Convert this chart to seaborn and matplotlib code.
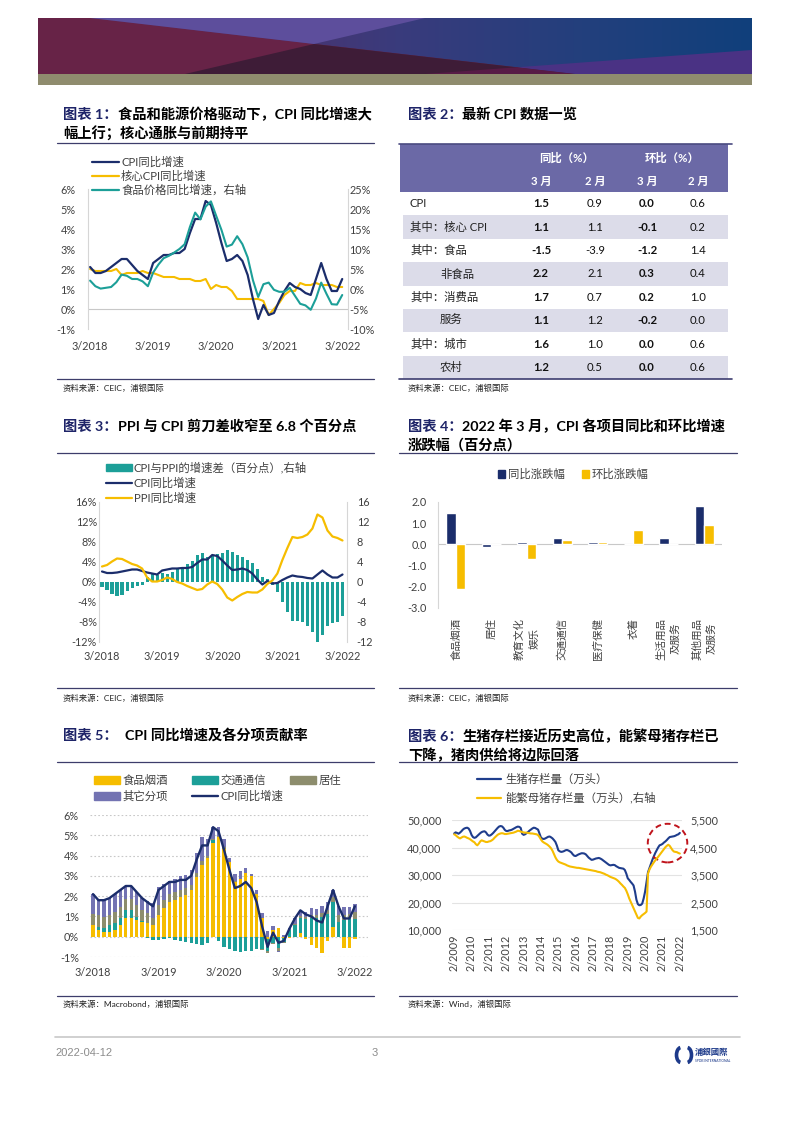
import numpy as np
import pandas as pd
import matplotlib
matplotlib.use('Agg')
import matplotlib.pyplot as plt
import seaborn as sns
from matplotlib.patches import Polygon, Rectangle, Ellipse, Patch, Arc
from matplotlib.lines import Line2D
from matplotlib.colors import LinearSegmentedColormap

## ---------------- data ----------------
# chart 1 / 3 / 5 : monthly 3/2018 .. 3/2022
month_ticks = ['3/2018', '3/2019', '3/2020', '3/2021', '3/2022']
cpi_yoy = [2.1, 1.8, 1.8, 1.9, 2.1, 2.3, 2.5, 2.5, 2.2, 1.9,
           1.7, 1.5, 2.3, 2.5, 2.7, 2.7, 2.8, 2.8, 3.0, 3.8, 4.5, 4.5,
           5.4, 5.2, 4.3, 3.3, 2.4, 2.5, 2.7, 2.4, 1.7, 0.5, -0.5, 0.2,
           -0.3, -0.2, 0.4, 0.9, 1.3, 1.1, 1.0, 0.8, 0.7, 1.5, 2.3, 1.5,
           0.9, 0.9, 1.5]
core_cpi = [2.0, 1.9, 1.9, 1.9, 1.9, 2.0, 1.7, 1.8, 1.8, 1.8,
            1.9, 1.8, 1.8, 1.7, 1.6, 1.6, 1.6, 1.5, 1.5, 1.5, 1.4, 1.4,
            1.5, 1.0, 1.2, 1.1, 1.1, 0.9, 0.5, 0.5, 0.5, 0.5, 0.5, 0.4,
            -0.3, 0.0, 0.3, 0.7, 0.9, 0.9, 1.3, 1.2, 1.2, 1.3, 1.2, 1.2,
            1.2, 1.1, 1.1]
food_yoy = [2.1, 0.7, 0.1, 0.3, 0.5, 1.7, 3.6, 3.3, 2.5, 2.5,
            1.9, 0.7, 4.1, 6.1, 7.7, 8.3, 9.1, 10.0, 11.2, 15.5, 19.1, 17.4,
            20.6, 21.9, 18.3, 14.8, 10.6, 11.1, 13.2, 11.2, 7.9, 2.2, -2.0, 1.2,
            1.6, -0.2, -0.7, -0.7, 0.3, -1.7, -3.7, -4.1, -5.2, -2.4, 1.6, -1.2,
            -3.8, -3.9, -1.5]
ppi_yoy = [3.1, 3.4, 4.1, 4.7, 4.6, 4.1, 3.6, 3.3, 2.7, 0.9,
           0.1, 0.1, 0.4, 0.9, 0.6, 0.0, -0.3, -0.8, -1.2, -1.6, -1.4, -0.5,
           0.1, -0.4, -1.5, -3.1, -3.7, -3.0, -2.4, -2.0, -2.1, -2.1, -1.5, -0.4,
           0.3, 1.7, 4.4, 6.8, 9.0, 8.8, 9.0, 9.5, 10.7, 13.5, 12.9, 10.3,
           9.1, 8.8, 8.3]
cpi_ppi_gap = [-1.0, -1.6, -2.3, -2.8, -2.5, -1.8, -1.1, -0.8, -0.5, 1.0,
               1.6, 1.4, 1.9, 1.6, 2.1, 2.7, 3.1, 3.6, 4.2, 5.4, 5.9, 5.0,
               5.3, 5.6, 5.8, 6.4, 6.1, 5.5, 5.1, 4.4, 3.8, 2.6, 1.0, 0.6,
               -0.6, -1.9, -4.0, -5.9, -7.7, -7.7, -8.0, -8.7, -10.0, -12.0, -10.6, -8.8,
               -8.2, -7.9, -6.8]
# chart 5 contributions (pp)
contrib_food = [0.57, 0.33, 0.25, 0.25, 0.33, 0.57, 0.9, 0.9, 0.82, 0.74,
                0.66, 0.57, 1.07, 1.4, 1.72, 1.8, 1.97, 2.05, 2.3, 2.96, 3.55, 3.9,
                4.6, 4.9, 4.3, 3.7, 2.7, 2.85, 3.15, 3.0, 2.1, 0.9, -0.1, 0.35,
                0.45, -0.05, -0.05, 0.0, 0.2, -0.1, -0.4, -0.55, -0.8, -0.2, 0.5, 0.0,
                -0.55, -0.55, -0.1]
contrib_transport = [0.0, 0.16, 0.2, 0.33, 0.33, 0.33, 0.41, 0.41, 0.16, 0.03,
                     -0.05, -0.16, -0.16, -0.1, -0.05, -0.15, -0.2, -0.25, -0.3, -0.35, -0.4, -0.3,
                     0.15, -0.2, -0.5, -0.6, -0.7, -0.75, -0.7, -0.7, -0.6, -0.6, -0.6, -0.3,
                     -0.55, -0.2, 0.35, 0.6, 0.7, 0.85, 0.9, 0.9, 0.95, 1.1, 1.2, 0.75,
                     0.8, 0.85, 0.85]
contrib_housing = [0.57, 0.57, 0.54, 0.5, 0.57, 0.57, 0.57, 0.57, 0.57, 0.54,
                   0.5, 0.33, 0.5, 0.41, 0.41, 0.38, 0.33, 0.33, 0.25, 0.16, 0.16, 0.1,
                   0.05, 0.05, 0.1, 0.0, 0.05, 0.0, 0.0, 0.0, 0.0, -0.05, -0.1, -0.05,
                   -0.15, -0.05, 0.0, 0.05, 0.1, 0.1, 0.15, 0.15, 0.2, 0.2, 0.25, 0.3,
                   0.25, 0.25, 0.35]
contrib_other = [0.96, 0.74, 0.81, 0.82, 0.87, 0.83, 0.62, 0.62, 0.65, 0.59,
                 0.59, 0.76, 0.89, 0.79, 0.62, 0.67, 0.70, 0.67, 0.75, 1.03, 1.19, 0.80,
                 0.60, 0.45, 0.40, 0.20, 0.35, 0.40, 0.25, 0.10, 0.20, 0.25, 0.30, 0.20,
                 -0.05, 0.10, 0.10, 0.25, 0.30, 0.25, 0.35, 0.30, 0.35, 0.40, 0.35, 0.45,
                 0.40, 0.35, 0.40]

# chart 2 table
table_rows = ['CPI', '其中：核心 CPI', '其中：食品', '非食品', '其中：消费品', '服务', '其中：城市', '农村']
row_indent = [0, 0, 0, 1, 0, 1, 0, 1]
yoy_mar = [1.5, 1.1, -1.5, 2.2, 1.7, 1.1, 1.6, 1.2]
yoy_feb = [0.9, 1.1, -3.9, 2.1, 0.7, 1.2, 1.0, 0.5]
mom_mar = [0.0, -0.1, -1.2, 0.3, 0.2, -0.2, 0.0, 0.0]
mom_feb = [0.6, 0.2, 1.4, 0.4, 1.0, 0.0, 0.6, 0.6]

# chart 4
items = ['食品烟酒', '居住', '教育文化\n娱乐', '交通通信', '医疗保健', '衣着', '生活用品\n及服务', '其他用品\n及服务']
item_yoy = [1.5, -0.1, 0.1, 0.3, 0.1, 0.0, 0.3, 1.8]
item_mom = [-2.1, 0.0, -0.7, 0.2, 0.1, 0.7, 0.0, 0.9]

# chart 6 : monthly 2/2009 .. 2/2022
hog_ticks = ['2/2009', '2/2010', '2/2011', '2/2012', '2/2013', '2/2014', '2/2015',
             '2/2016', '2/2017', '2/2018', '2/2019', '2/2020', '2/2021', '2/2022']
hog_stock = [45100, 45500, 45300, 45000, 45400, 45900, 46500, 46900, 47100, 47200, 46900,
             46000, 44600, 43800, 43500, 43700, 44200, 44700, 45200, 45600, 45800, 45900, 45500,
             44700, 44300, 44400, 44800, 45300, 45900, 46500, 47100, 47600, 47800, 47700, 47200,
             46400, 46000, 46000, 46200, 46300, 46500, 46800, 47100, 47400, 47600, 47500, 47100,
             45000, 44600, 44800, 45200, 45600, 46100, 46500, 46900, 47200, 47100, 46800, 46500,
             45000, 43600, 43200, 43100, 43300, 43600, 43900, 44000, 43700, 43300, 42700, 42000,
             40700, 39000, 38600, 38400, 38500, 38700, 39000, 39100, 38900, 38600, 38200, 37500,
             37000, 36900, 37200, 37500, 37700, 37900, 37900, 37800, 37500, 36900, 36300, 35900,
             35500, 35600, 35800, 36000, 36100, 36200, 36000, 35700, 35300, 34900, 34500, 34100,
             33700, 33500, 33600, 33700, 33600, 33200, 32900, 32600, 32500, 32400, 32300, 31800,
             30500, 28800, 28200, 27500, 26900, 26200, 24000, 21000, 19400, 19000, 19100, 19600,
             21500, 24000, 27500, 31000, 32500, 34000, 35500, 36800, 38000, 39000, 40000, 40800,
             41000, 41300, 41800, 42200, 42700, 43300, 43800, 43900, 44000, 44100, 44300, 44600,
             44800, 45300]
sow_stock = [4980, 4950, 4900, 4860, 4830, 4860, 4890, 4900, 4880, 4850, 4830,
             4800, 4760, 4720, 4690, 4620, 4580, 4640, 4720, 4760, 4740, 4720, 4700,
             4700, 4720, 4730, 4760, 4800, 4860, 4910, 4960, 4990, 5010, 5020, 5010,
             4990, 4990, 5000, 5010, 5020, 5030, 5040, 5060, 5080, 5110, 5100, 5080,
             5060, 5050, 5040, 5040, 5030, 5020, 5010, 5010, 5000, 4990, 4980, 4950,
             4880, 4790, 4720, 4680, 4650, 4620, 4580, 4530, 4470, 4380, 4260, 4140,
             4050, 3990, 3960, 3940, 3920, 3900, 3880, 3850, 3830, 3810, 3800, 3790,
             3780, 3770, 3760, 3760, 3750, 3740, 3730, 3720, 3710, 3700, 3690, 3680,
             3670, 3660, 3650, 3640, 3620, 3610, 3600, 3580, 3560, 3540, 3510, 3490,
             3460, 3430, 3410, 3390, 3370, 3340, 3300, 3250, 3190, 3140, 3080, 3030,
             2930, 2800, 2650, 2530, 2400, 2290, 2170, 2050, 1940, 1920, 1990, 2040,
             2080, 2120, 2170, 3550, 3700, 3800, 3880, 3960, 4030, 4100, 4160, 4230,
             4300, 4370, 4440, 4510, 4560, 4600, 4560, 4480, 4400, 4350, 4340, 4330,
             4300, 4280]

## ---------------- style ----------------
sns.set_theme(style='white')
plt.rcParams['font.family'] = ['Lato', 'Noto Sans CJK SC', 'DejaVu Sans']
plt.rcParams['axes.unicode_minus'] = False

NAVY = '#1b2d6b'
GOLD = '#f6bd00'
TEAL = '#1c9f98'
KHAKI = '#8d8d6d'
PURP = '#7373b2'
NAVY6 = '#1f3d8c'
TNAVY = '#1e2468'
TXT = '#404040'
SPINE = '#d6d6d6'
SEP = '#3d3d6b'
TICK = 7.8
LEG = 8.2

W, H = 793, 1122
fig = plt.figure(figsize=(W / 100, H / 100), dpi=100)
page = fig.add_axes([0, 0, 1, 1])
page.set_xlim(0, W)
page.set_ylim(H, 0)
page.axis('off')
renderer = fig.canvas.get_renderer()


def add_ax(x0, y0, x1, y1):
    return fig.add_axes([x0 / W, 1 - y1 / H, (x1 - x0) / W, (y1 - y0) / H])


def fxy(x, y):
    return (x / W, 1 - y / H)


def clean(ax, keep=()):
    for s in ['left', 'right', 'top', 'bottom']:
        ax.spines[s].set_visible(s in keep)
        ax.spines[s].set_color(SPINE)
        ax.spines[s].set_linewidth(0.8)
    ax.tick_params(length=0, labelsize=TICK, colors=TXT)
    ax.set_xlabel('')
    ax.set_ylabel('')


## ---------------- banner / footer ----------------
grad = np.linspace(0, 1, 256).reshape(1, -1)
bcmap = LinearSegmentedColormap.from_list('ban', ['#6a2447', '#52306a', '#3a3b7c', '#243f7d', '#10407b'])
page.imshow(grad, extent=(38, 752, 74, 18), aspect='auto', cmap=bcmap, zorder=0)
page.add_patch(Polygon([(38, 18), (90, 18), (575, 74), (38, 74)], color='#672347', lw=0, zorder=1))
page.add_patch(Polygon([(90, 18), (425, 18), (314, 44)], color='#5d4e9c', lw=0, zorder=1))
page.add_patch(Polygon([(185, 74), (314, 44), (575, 74)], color='#3e1c37', lw=0, zorder=1))
page.add_patch(Polygon([(516.7, 67.3), (752, 50), (752, 74), (575, 74)], color='#4a3284', lw=0, zorder=1))
page.add_patch(Polygon([(425, 74), (516.7, 67.3), (575, 74)], color='#571b46', lw=0, zorder=1))
page.add_patch(Rectangle((38, 74), 714, 11, color='#8f8c6e', lw=0, zorder=1))
page.set_xlim(0, W)
page.set_ylim(H, 0)

page.plot([55, 740], [1037, 1037], color='#c8c8c8', lw=1.2)
page.text(55, 1053, '2022-04-12', fontsize=8, color='#8c8c8c', va='center',
          family=['Liberation Sans Narrow', 'Liberation Sans'])
page.text(375, 1053, '3', fontsize=8, color='#8c8c8c', va='center', ha='center',
          family=['Liberation Sans Narrow', 'Liberation Sans'])
page.add_patch(Arc((681, 1055), 9, 15, theta1=95, theta2=265, lw=2.6, color='#1d3a8a'))
page.add_patch(Arc((687, 1055), 9, 15, theta1=-85, theta2=85, lw=2.6, color='#1d3a8a'))
page.text(695, 1052, '浦銀國際', fontsize=6, fontweight='bold', color='#1d3a8a', va='center',
          family=['Noto Sans CJK TC'])
page.text(695, 1060.5, 'SPDB INTERNATIONAL', fontsize=2.4, color='#1d3a8a', va='center')


## ---------------- titles / separators ----------------
TS = 10.3


def title(x, y, num, line1, line2=None):
    t = page.text(x, y, f'图表 {num}：', color=TNAVY, fontsize=TS, fontweight='bold', va='center')
    w = t.get_window_extent(renderer).width
    page.text(x + w, y, line1, color='black', fontsize=TS, fontweight='bold', va='center')
    if line2:
        page.text(x, y + 19, line2, color='black', fontsize=TS, fontweight='bold', va='center')


def source(x, y, txt):
    page.text(x, y, txt, fontsize=6.0, color='#222222', va='center')


def sep(x0, x1, y):
    page.plot([x0, x1], [y, y], color=SEP, lw=0.9)


title(63, 114, 1, '食品和能源价格驱动下，CPI 同比增速大', '幅上行；核心通胀与前期持平')
title(408, 114, 2, '最新 CPI 数据一览')
title(63, 426, 3, 'PPI 与 CPI 剪刀差收窄至 6.8 个百分点')
title(408, 426, 4, '2022 年 3 月，CPI 各项目同比和环比增速', '涨跌幅（百分点）')
title(63, 735, 5, '  CPI 同比增速及各分项贡献率')
title(408, 736, 6, '生猪存栏接近历史高位，能繁母猪存栏已', '下降，猪肉供给将边际回落')

for y in (143, 453, 762):
    sep(57, 374, y)
for y in (379, 688, 996):
    sep(57, 374, y)
for y in (453, 762):
    sep(399, 737, y)
for y in (688, 996):
    sep(399, 737, y)

source(63, 388, '资料来源：CEIC，浦银国际')
source(408, 388, '资料来源：CEIC，浦银国际')
source(63, 698, '资料来源：CEIC，浦银国际')
source(408, 698, '资料来源：CEIC，浦银国际')
source(63, 1004, '资料来源：Macrobond，浦银国际')
source(408, 1004, '资料来源：Wind，浦银国际')

m49 = np.arange(len(cpi_yoy))

## ---------------- chart 1 ----------------
ax1 = add_ax(88, 189, 348, 329)
ax1r = ax1.twinx()
sns.lineplot(x=m49, y=core_cpi, ax=ax1, color=GOLD, lw=1.5)
sns.lineplot(x=m49, y=cpi_yoy, ax=ax1, color=NAVY, lw=1.6)
sns.lineplot(x=m49, y=food_yoy, ax=ax1r, color=TEAL, lw=1.5)
ax1.axhline(0, color='#c8c8c8', lw=0.8, zorder=0)
ax1.set_xlim(-0.4, 49.1)
ax1.set_ylim(-1, 6)
ax1r.set_ylim(-10, 25)
ax1.set_yticks(range(-1, 7))
ax1.set_yticklabels([f'{v}%' for v in range(-1, 7)])
ax1r.set_yticks(range(-10, 26, 5))
ax1r.set_yticklabels([f'{v}%' for v in range(-10, 26, 5)])
ax1.set_xticks([0, 12, 24, 36, 48])
ax1.set_xticklabels(month_ticks)
clean(ax1, keep=('left',))
clean(ax1r, keep=('right',))
ax1.tick_params(axis='y', pad=9)
ax1.tick_params(axis='x', pad=9)
ax1r.tick_params(axis='y', pad=1)
h1 = [Line2D([], [], color=NAVY, lw=1.6), Line2D([], [], color=GOLD, lw=1.6), Line2D([], [], color=TEAL, lw=1.6)]
ax1r.legend(h1, ['CPI同比增速', '核心CPI同比增速', '食品价格同比增速，右轴'], loc='upper left',
            bbox_to_anchor=fxy(92, 156.5), bbox_transform=fig.transFigure, frameon=False,
            fontsize=LEG, handlelength=2.35, handletextpad=0.2, labelspacing=0.24,
            borderpad=0, borderaxespad=0, labelcolor=TXT)

## ---------------- chart 2 (table) ----------------
page.add_patch(Rectangle((400, 144), 328, 48, color='#6b69a6', lw=0))
page.plot([399, 732], [144, 144], color='#4a4a80', lw=1.2)
hdr = dict(color='white', fontsize=8.2, fontweight='bold', va='center', ha='center')
page.text(567, 158, '同比（%）', **hdr)
page.text(672, 158, '环比（%）', **hdr)
for xc, lab in zip([541, 595, 647, 698], ['3 月', '2 月', '3 月', '2 月']):
    page.text(xc, 181, lab, **hdr)
row_h = 23.4
for i, name in enumerate(table_rows):
    top = 192 + row_h * i
    yc = top + row_h / 2
    if i % 2 == 1:
        page.add_patch(Rectangle((403, top), 325, row_h, color='#dcdce9', lw=0))
    page.text(410 + 30 * row_indent[i], yc, name, fontsize=8.2, color='#222222', va='center')
    for xc, vals, wt in [(541, yoy_mar, 'bold'), (595, yoy_feb, 'normal'),
                         (647, mom_mar, 'bold'), (698, mom_feb, 'normal')]:
        page.text(xc, yc, f'{vals[i]:.1f}', fontsize=8.2, color='#111111', fontweight=wt,
                  va='center', ha='center')
page.plot([399, 732], [379, 379], color='#3d3d70', lw=1.2)

## ---------------- chart 3 ----------------
ax3 = add_ax(99, 502, 347, 642)
ax3r = ax3.twinx()
ax3r.bar(m49, cpi_ppi_gap, width=0.62, color=TEAL, lw=0)
sns.lineplot(x=m49, y=cpi_yoy, ax=ax3, color=NAVY, lw=1.6)
sns.lineplot(x=m49, y=ppi_yoy, ax=ax3, color=GOLD, lw=1.6)
ax3.set_zorder(ax3r.get_zorder() + 1)
ax3.patch.set_visible(False)
ax3.set_xlim(-0.6, 48.9)
for a in (ax3, ax3r):
    a.set_ylim(-12, 16)
    a.set_yticks(range(-12, 17, 4))
ax3.set_yticklabels([f'{v}%' for v in range(-12, 17, 4)])
ax3r.set_yticklabels([f'{v}' for v in range(-12, 17, 4)])
ax3.set_xticks([0, 12, 24, 36, 48])
ax3.set_xticklabels(month_ticks)
clean(ax3, keep=('left',))
clean(ax3r, keep=('right',))
ax3.tick_params(axis='y', pad=1.5)
ax3.tick_params(axis='x', pad=6.5)
ax3r.tick_params(axis='y', pad=7)
h3 = [Patch(color=TEAL), Line2D([], [], color=NAVY, lw=1.6), Line2D([], [], color=GOLD, lw=1.6)]
ax3.legend(h3, ['CPI与PPI的增速差（百分点）,右轴', 'CPI同比增速', 'PPI同比增速'], loc='upper left',
           bbox_to_anchor=fxy(106, 461.5), bbox_transform=fig.transFigure, frameon=False,
           fontsize=LEG, handlelength=2.25, handleheight=0.6, handletextpad=0.2, labelspacing=0.34,
           borderpad=0, borderaxespad=0, labelcolor=TXT)

## ---------------- chart 4 ----------------
ax4 = add_ax(438, 502, 722, 608)
df4 = pd.DataFrame({'item': items * 2,
                    'kind': ['同比涨跌幅'] * len(items) + ['环比涨跌幅'] * len(items),
                    'value': item_yoy + item_mom})
sns.barplot(data=df4, x='item', y='value', hue='kind', palette=[NAVY, GOLD], width=0.53,
            errorbar=None, legend=False, ax=ax4, saturation=1)
ax4.axhline(0, color='#c8c8c8', lw=0.8, zorder=0)
ax4.set_ylim(-3, 2)
ax4.set_xlim(-0.5, len(items) - 0.5)
ax4.set_yticks(np.arange(-3, 2.1, 1))
ax4.set_yticklabels([f'{v:.1f}' for v in np.arange(-3, 2.1, 1)])
clean(ax4, keep=('left',))
ax4.set_xticks(range(len(items)))
ax4.set_xticklabels(items, rotation=90, va='top', ha='center', multialignment='center',
                    linespacing=1.45, fontsize=7.6)
ax4.tick_params(axis='y', pad=8)
ax4.tick_params(axis='x', pad=7)
h4 = [Patch(color=NAVY), Patch(color=GOLD)]
ax4.legend(h4, ['同比涨跌幅', '环比涨跌幅'], loc='upper left', ncol=2,
           bbox_to_anchor=fxy(498, 469), bbox_transform=fig.transFigure, frameon=False,
           fontsize=LEG, handlelength=0.65, handleheight=0.65, handletextpad=0.2, columnspacing=1.5,
           borderpad=0, borderaxespad=0, labelcolor=TXT)

## ---------------- chart 5 ----------------
ax5 = add_ax(90, 815, 368, 957)
pos_base = np.zeros(len(m49))
neg_base = np.zeros(len(m49))
for vals, col in [(contrib_food, GOLD), (contrib_transport, TEAL), (contrib_housing, KHAKI), (contrib_other, PURP)]:
    v = np.array(vals)
    base = np.where(v >= 0, pos_base, neg_base)
    ax5.bar(m49, v, bottom=base, width=0.62, color=col, lw=0, zorder=2)
    pos_base += np.clip(v, 0, None)
    neg_base += np.clip(v, None, 0)
sns.lineplot(x=m49, y=cpi_yoy, ax=ax5, color=NAVY, lw=1.7, zorder=3)
ax5.set_xlim(-0.55, 50.4)
ax5.set_ylim(-1, 6)
ax5.set_yticks(range(-1, 7))
ax5.set_yticklabels([f'{v}%' for v in range(-1, 7)])
ax5.yaxis.grid(True, color='#c8c8c8', lw=0.8, ls=(0, (1.5, 2)))
ax5.set_axisbelow(True)
ax5.set_xticks([0, 12, 24, 36, 48])
ax5.set_xticklabels(month_ticks)
clean(ax5)
ax5.tick_params(axis='y', pad=8)
ax5.tick_params(axis='x', pad=7)
leg_kw = dict(loc='upper left', bbox_transform=fig.transFigure, frameon=False, fontsize=LEG,
              handlelength=2.25, handleheight=0.65, handletextpad=0.25, labelspacing=0.4,
              borderpad=0, borderaxespad=0, labelcolor=TXT)
l5a = ax5.legend([Patch(color=GOLD), Patch(color=PURP)], ['食品烟酒', '其它分项'],
                 bbox_to_anchor=fxy(94, 775), **leg_kw)
ax5.add_artist(l5a)
l5b = ax5.legend([Patch(color=TEAL), Line2D([], [], color=NAVY, lw=1.7)], ['交通通信', 'CPI同比增速'],
                 bbox_to_anchor=fxy(192, 775), **leg_kw)
ax5.add_artist(l5b)
ax5.legend([Patch(color=KHAKI)], ['居住'], bbox_to_anchor=fxy(290, 775), **leg_kw)

## ---------------- chart 6 ----------------
ax6 = add_ax(452, 820, 682, 930)
ax6r = ax6.twinx()
m157 = np.arange(len(hog_stock))
sns.lineplot(x=m157, y=hog_stock, ax=ax6, color=NAVY6, lw=1.5)
sns.lineplot(x=m157, y=sow_stock, ax=ax6r, color=GOLD, lw=1.5)
ax6.set_xlim(-1.5, 157.5)
ax6.set_ylim(10000, 50000)
ax6r.set_ylim(1500, 5500)
ax6.set_yticks(range(10000, 50001, 10000))
ax6.set_yticklabels([f'{v:,}' for v in range(10000, 50001, 10000)])
ax6r.set_yticks(range(1500, 5501, 1000))
ax6r.set_yticklabels([f'{v:,}' for v in range(1500, 5501, 1000)])
ax6.yaxis.grid(True, color='#e3e3e3', lw=0.8)
ax6.set_axisbelow(True)
ax6.set_xticks(range(0, len(hog_stock), 12))
ax6.set_xticklabels(hog_ticks, rotation=90, va='top', ha='center')
clean(ax6)
clean(ax6r)
ax6.tick_params(axis='y', pad=7.5)
ax6.tick_params(axis='x', pad=3.5)
ax6r.tick_params(axis='y', pad=6)
# dashed highlight ring around the latest readings
ax6r.add_patch(Ellipse((147.5, 4660), 27.3, 1404, fill=False, ec='#c0141c', lw=1.4,
                       ls=(0, (3, 2)), clip_on=False))
h6 = [Line2D([], [], color=NAVY6, lw=1.6), Line2D([], [], color=GOLD, lw=1.6)]
ax6r.legend(h6, ['生猪存栏量（万头）', '能繁母猪存栏量（万头）,右轴'], loc='upper left',
            bbox_to_anchor=fxy(477, 774), bbox_transform=fig.transFigure, frameon=False,
            fontsize=LEG, handlelength=2.15, handletextpad=0.3, labelspacing=0.6,
            borderpad=0, borderaxespad=0, labelcolor=TXT)

fig.savefig('out.png', dpi=100)
